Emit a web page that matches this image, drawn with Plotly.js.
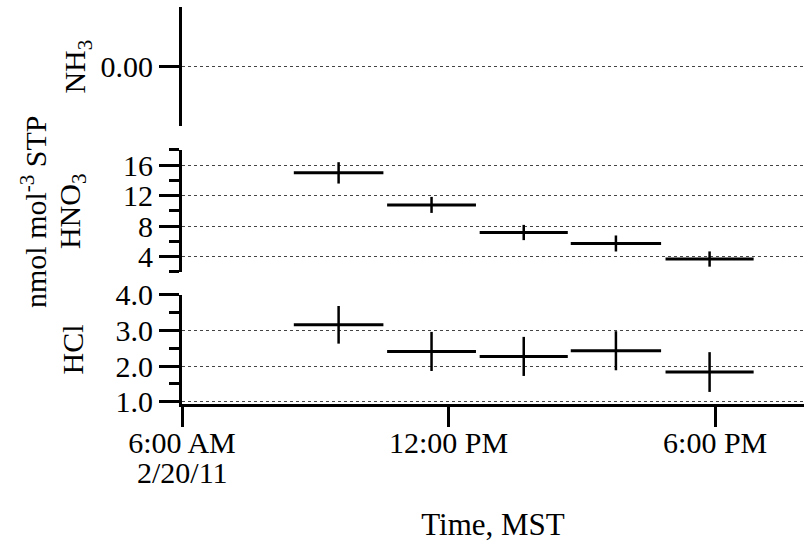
<!DOCTYPE html>
<html>
<head>
<meta charset="utf-8">
<script src="https://cdn.plot.ly/plotly-3.0.1.min.js"></script>
<style>html,body{margin:0;padding:0;background:#fff;}#chart{width:804px;height:547px;}</style>
</head>
<body>
<div id="chart"></div>
<script>
// Sampling intervals (MST, 2/20/11)
const intervalStart = ["08:31", "10:37", "12:42", "14:45", "16:53"];
const intervalEnd   = ["10:32", "12:37", "14:41", "16:47", "18:52"];

// HNO3, nmol mol-1 STP
const hno3 = [15.0, 10.8, 7.18, 5.74, 3.70];
const hno3Err = [1.4, 1.05, 1.0, 1.05, 1.0];

// HCl, nmol mol-1 STP
const hcl = [3.16, 2.41, 2.27, 2.43, 1.83];
const hclErr = [0.53, 0.55, 0.55, 0.55, 0.56];

// x tick labels
const xTickVals = [6, 12, 18];
const xTickText = ["6:00 AM", "12:00 PM", "6:00 PM"];
const dateLabel = "2/20/11";

function toHours(s) { const p = s.split(":"); return +p[0] + (+p[1]) / 60; }
const t0 = intervalStart.map(toHours);
const t1 = intervalEnd.map(toHours);
const tMid = t0.map((a, i) => (a + t1[i]) / 2);
const tHalf = t0.map((a, i) => (t1[i] - a) / 2);

const FONT = "Liberation Serif, Times New Roman, serif";
const FS = 30;

function errTrace(y, yerr, yaxis) {
  return {
    x: tMid, y: y, yaxis: yaxis, type: "scatter", mode: "markers",
    marker: {color: "rgba(0,0,0,0)", size: 1},
    error_x: {type: "data", array: tHalf, symmetric: true, color: "#000", thickness: 3, width: 0},
    error_y: {type: "data", array: yerr, symmetric: true, color: "#000", thickness: 2.5, width: 0},
    showlegend: false, hoverinfo: "skip"
  };
}

const data = [
  errTrace(hcl, hclErr, "y"),
  errTrace(hno3, hno3Err, "y2"),
  {x: [], y: [], yaxis: "y3", type: "scatter", mode: "markers", showlegend: false}
];

const axCommon = {
  showline: true, linecolor: "#000", linewidth: 3,
  ticks: "outside", ticklen: 20, tickwidth: 3, tickcolor: "#000",
  tickfont: {family: FONT, size: FS, color: "#000"},
  showgrid: true, gridcolor: "#444", gridwidth: 1, griddash: "dot",
  zeroline: false, anchor: "x", fixedrange: true
};

const layout = {
  width: 804, height: 547,
  margin: {l: 182, r: 0, t: 7, b: 143},
  paper_bgcolor: "#fff", plot_bgcolor: "#fff",
  font: {family: FONT, size: FS, color: "#000"},
  xaxis: {
    range: [6, 20], anchor: "y",
    showline: true, linecolor: "#000", linewidth: 3,
    ticks: "outside", ticklen: 20, tickwidth: 3, tickcolor: "#000",
    tickvals: xTickVals, ticktext: xTickText, ticklabelstandoff: -10,
    tickfont: {family: FONT, size: FS, color: "#000"},
    showgrid: false, zeroline: false,
    title: {text: "Time, MST", font: {family: FONT, size: 31, color: "#000"}, standoff: 56}
  },
  yaxis: Object.assign({}, axCommon, {
    domain: [0, 0.2746], range: [0.93, 4.0],
    tickvals: [1, 2, 3, 4], ticktext: ["1.0", "2.0", "3.0", "4.0"],
    minor: {ticks: "outside", ticklen: 10, tickwidth: 3, tickcolor: "#000", tickvals: [1.5, 2.5, 3.5], showgrid: false}
  }),
  yaxis2: Object.assign({}, axCommon, {
    domain: [0.3325, 0.6398], range: [2, 18],
    tickvals: [4, 8, 12, 16],
    minor: {ticks: "outside", ticklen: 10, tickwidth: 3, tickcolor: "#000", tickvals: [2, 6, 10, 14, 18], showgrid: false}
  }),
  yaxis3: Object.assign({}, axCommon, {
    domain: [0.7003, 1], range: [-1, 1],
    tickvals: [0], ticktext: ["0.00"]
  }),
  annotations: [
    {text: dateLabel, xref: "x", yref: "paper", x: 6, y: -0.173,
     xanchor: "center", yanchor: "middle", showarrow: false,
     font: {family: FONT, size: FS, color: "#000"}},
    {text: "nmol mol<sup>-3</sup> STP", textangle: -90, xref: "paper", yref: "paper",
     x: -0.238, y: 0.486, xanchor: "center", yanchor: "middle", showarrow: false,
     font: {family: FONT, size: FS, color: "#000"}},
    {text: "NH<sub>3</sub>", textangle: -90, xref: "paper", yref: "paper",
     x: -0.1688, y: 0.850, xanchor: "center", yanchor: "middle", showarrow: false,
     font: {family: FONT, size: FS, color: "#000"}},
    {text: "HNO<sub>3</sub>", textangle: -90, xref: "paper", yref: "paper",
     x: -0.1768, y: 0.486, xanchor: "center", yanchor: "middle", showarrow: false,
     font: {family: FONT, size: FS, color: "#000"}},
    {text: "HCl", textangle: -90, xref: "paper", yref: "paper",
     x: -0.1768, y: 0.1373, xanchor: "center", yanchor: "middle", showarrow: false,
     font: {family: FONT, size: FS, color: "#000"}}
  ]
};

Plotly.newPlot("chart", data, layout, {displayModeBar: false, staticPlot: true});
</script>
</body>
</html>
